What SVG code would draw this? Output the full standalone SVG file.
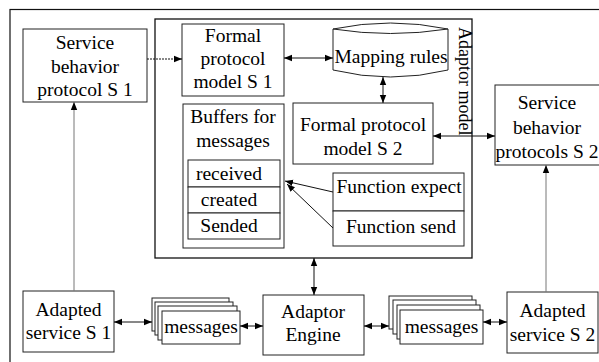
<svg xmlns="http://www.w3.org/2000/svg" width="599" height="362" viewBox="0 0 599 362">
<defs>
<marker id="ah" viewBox="0 0 10 10" refX="10" refY="5" markerWidth="8" markerHeight="8" markerUnits="userSpaceOnUse" orient="auto-start-reverse"><path d="M0,1 L10,5 L0,9 z" fill="#000"/></marker>
<style>
.b{fill:#fff;stroke:#222;stroke-width:1}
.t{font-family:"Liberation Serif","Times New Roman",serif;font-size:19.5px;fill:#000;text-anchor:middle}
.c{fill:none;stroke:#111;stroke-width:1}
.g{fill:none;stroke:#777;stroke-width:1}
</style>
</defs>
<rect width="599" height="362" fill="#fff"/>
<rect x="10" y="9.5" width="600" height="360" fill="none" stroke="#111" stroke-width="1.2"/>

<g id="adaptor-model">
<rect x="155" y="19" width="317" height="239" fill="none" stroke="#111" stroke-width="1.3"/>
<text class="t" style="font-size:18px;text-anchor:start" transform="translate(459,27) rotate(90)">Adaptor model</text>
</g>

<g id="sbp-s1">
<rect class="b" x="23" y="29" width="124" height="73"/>
<text class="t" x="85" y="49">Service</text>
<text class="t" x="85" y="73">behavior</text>
<text class="t" x="85" y="96">protocol S 1</text>
</g>

<g id="fpm-s1">
<rect class="b" x="182" y="24" width="102" height="72"/>
<text class="t" x="233" y="42">Formal</text>
<text class="t" x="233" y="65">protocol</text>
<text class="t" x="233" y="88">model S 1</text>
</g>

<g id="mapping-rules">
<path class="b" d="M333,29 L333,70 Q390.5,84 448,70 L448,29 Q390.5,17 333,29 Q390.5,38 448,29"/>
<text class="t" x="391" y="63">Mapping rules</text>
</g>

<g id="fpm-s2">
<rect class="b" x="293" y="103" width="140" height="61"/>
<text class="t" x="363" y="131">Formal protocol</text>
<text class="t" x="363" y="155">model S 2</text>
</g>

<g id="sbp-s2">
<rect class="b" x="495" y="85" width="110" height="80"/>
<text class="t" x="547" y="109">Service</text>
<text class="t" x="547" y="134">behavior</text>
<text class="t" x="547" y="158">protocols S 2</text>
</g>

<g id="buffers">
<rect class="b" x="183" y="104" width="101" height="144"/>
<text class="t" x="233" y="123">Buffers for</text>
<text class="t" x="233" y="147">messages</text>
<rect class="b" x="188" y="160" width="92" height="27"/>
<rect class="b" x="188" y="187" width="92" height="26"/>
<rect class="b" x="188" y="213" width="92" height="26"/>
<text class="t" x="229" y="180">received</text>
<text class="t" x="229" y="206">created</text>
<text class="t" x="229" y="232">Sended</text>
</g>

<g id="functions">
<rect class="b" x="333" y="173" width="131" height="38"/>
<rect class="b" x="333" y="211" width="131" height="35"/>
<text class="t" x="399" y="193">Function expect</text>
<text class="t" x="401" y="233">Function send</text>
</g>

<g id="adaptor-engine">
<rect class="b" x="263" y="295" width="101" height="60"/>
<text class="t" x="313" y="318">Adaptor</text>
<text class="t" x="313" y="341">Engine</text>
</g>

<g id="adapted-s1">
<rect class="b" x="23" y="291" width="91" height="61"/>
<text class="t" x="68.5" y="316">Adapted</text>
<text class="t" x="68.5" y="339">service S 1</text>
</g>

<g id="adapted-s2">
<rect class="b" x="507" y="292" width="91" height="61"/>
<text class="t" x="552.5" y="317">Adapted</text>
<text class="t" x="552.5" y="341">service S 2</text>
</g>

<g id="messages-1">
<rect class="b" x="152" y="298" width="77" height="33"/>
<rect class="b" x="155" y="302" width="78" height="33"/>
<rect class="b" x="158" y="306" width="79" height="34"/>
<rect class="b" x="162" y="311" width="78" height="33"/>
<text class="t" x="201" y="333">messages</text>
</g>

<g id="messages-2">
<rect class="b" x="389" y="296" width="83" height="33"/>
<rect class="b" x="393" y="300" width="83" height="34"/>
<rect class="b" x="397" y="305" width="83" height="34"/>
<rect class="b" x="400" y="310" width="83" height="34"/>
<text class="t" x="441.5" y="333">messages</text>
</g>

<g id="connectors">
<line class="c" x1="147" y1="59" x2="182" y2="59" marker-end="url(#ah)" stroke-dasharray="2,1"/>
<line class="c" x1="284" y1="58" x2="333" y2="58" marker-start="url(#ah)" marker-end="url(#ah)"/>
<line class="c" x1="383" y1="77" x2="383" y2="103" marker-start="url(#ah)" marker-end="url(#ah)"/>
<line class="c" x1="433" y1="136" x2="495" y2="136" marker-start="url(#ah)" marker-end="url(#ah)"/>
<line class="c" x1="333" y1="192" x2="285" y2="181" marker-end="url(#ah)"/>
<line class="c" x1="333" y1="228" x2="287" y2="184" marker-end="url(#ah)"/>
<line class="c" x1="314" y1="258" x2="314" y2="295" marker-start="url(#ah)" marker-end="url(#ah)"/>
<line class="g" x1="74" y1="291" x2="74" y2="102" marker-end="url(#ah)"/>
<line class="g" x1="546" y1="292" x2="546" y2="165" marker-end="url(#ah)"/>
<line class="c" x1="114" y1="322" x2="152" y2="322" marker-start="url(#ah)" marker-end="url(#ah)"/>
<line class="c" x1="240" y1="326" x2="263" y2="326" marker-start="url(#ah)" marker-end="url(#ah)"/>
<line class="c" x1="364" y1="326" x2="389" y2="326" marker-start="url(#ah)" marker-end="url(#ah)"/>
<line class="c" x1="483" y1="322" x2="507" y2="322" marker-start="url(#ah)" marker-end="url(#ah)"/>
</g>
</svg>
